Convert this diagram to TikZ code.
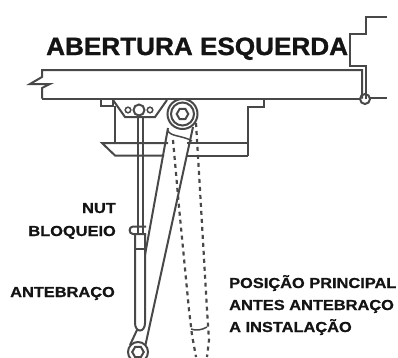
\documentclass[tikz,border=0pt]{standalone}
\usepackage{fontspec}
\setmainfont{Liberation Sans}
\newfontfamily\ttlf[FakeBold=1.2,FakeStretch=1.045]{Liberation Sans Bold}
\newfontfamily\lblf[FakeBold=0.8,FakeStretch=1.13]{Liberation Sans Bold}
\definecolor{ink}{HTML}{484848}
\tikzset{
  ln/.style={draw=ink,line width=2pt,line join=miter},
  thn/.style={draw=ink,line width=1.5pt},
  dot/.style={draw=ink,line width=2.2pt,dash pattern=on 4pt off 4pt},
  lbl/.style={inner sep=0pt,font=\lblf\fontsize{14.5}{14.5}\selectfont,text=black!92},
  ttl/.style={inner sep=0pt,font=\ttlf\fontsize{25}{25}\selectfont,text=black!92}
}
\begin{document}
\begin{tikzpicture}[x=1pt,y=-1pt]
\useasboundingbox (0,0) rectangle (398,357);
\begin{scope}
\clip (0,0) rectangle (398,357);
% wall
\draw[ln] (387,17) -- (366,17) -- (366,34) -- (350,34) -- (350,66) -- (366,66) -- (366,99);
\draw[ln] (42,98.5) -- (42,88) -- (50,84) -- (30,84) -- (42,77) -- (42,70) -- (362,70) -- (362,98.5);
\draw[ln] (42,98.5) -- (360,98.5);
\draw[ln] (370,98) -- (387,98);
\draw[ln] (365,99) circle (5);
% closer body
\draw[ln] (101,98.5) -- (101,105.5) -- (113,105.5) -- (113,98.5);
\draw[ln] (264,98.5) -- (264,106.5) -- (248,106.5) -- (248,155.5);
\draw[ln] (168,143) -- (102,143) -- (115,155.5) -- (164,155.5);
\draw[ln] (187,143) -- (248,143);
\draw[ln] (187,155.5) -- (248,155.5);
\draw[ln] (114.5,105.5) -- (114.5,143);
\draw[ln] (113,100) -- (125,117) -- (155,117) -- (167,100);
\draw[thn] (128,110) circle (2.8) (150,110) circle (2.8);
\draw[ln] (139,110) circle (5.5);
% rod
\draw[ln] (138,116) -- (138,234) (143,116) -- (143,234);
\draw[ln] (146,226.5) -- (133,226.5) .. controls (128.5,226.5) and (128.5,234) .. (133,234) -- (146,234);
\draw[ln] (135,234) -- (135,323) .. controls (135,333) and (145,333) .. (145,323) -- (145,234);
\draw[thn] (135,249) -- (145,249);
% main arm
\draw[ln] (168,128) -- (145,255);
\draw[ln] (193,127) -- (145,347);
\draw[ln] (137,330) -- (130,345);
\draw[thn] (167.5,130) .. controls (170,137) and (182,135) .. (192,141);
% top eye
\draw[ln,fill=white] (182.5,114) circle (15);
\draw[ln] (182.5,114) circle (11.5);
\draw[ln] (182.5,114) +(0:5.8) -- +(60:5.8) -- +(120:5.8) -- +(180:5.8) -- +(240:5.8) -- +(300:5.8) -- cycle;
% bottom eye
\draw[ln,fill=white] (138,352) circle (10);
\draw[ln] (138,352) +(0:5.8) -- +(60:5.8) -- +(120:5.8) -- +(180:5.8) -- +(240:5.8) -- +(300:5.8) -- cycle;
% ghost arm
\draw[dot] (173,140) -- (179,207) -- (189,310) -- (192,335) -- (196,357);
\draw[dot] (196,123) -- (200,190) -- (207,310) -- (209,340) -- (207,357);
\draw[thn] (191,329) .. controls (196,331) and (202,330) .. (207,327);
\end{scope}
% text
\node[ttl,anchor=base west] (title) at (46,55) {ABERTURA ESQUERDA};
\node[lbl,anchor=base east] (nut) at (116,213) {NUT};
\node[lbl,anchor=base east] (blo) at (116,236) {BLOQUEIO};
\node[lbl,anchor=base west] (ant) at (10,297) {ANTEBRAÇO};
\node[lbl,anchor=base west] (p1) at (229,288) {POSIÇÃO PRINCIPAL};
\node[lbl,anchor=base west] (p2) at (229,310) {ANTES ANTEBRAÇO};
\node[lbl,anchor=base west] (p3) at (229,332) {A INSTALAÇÃO};
\end{tikzpicture}
\end{document}
